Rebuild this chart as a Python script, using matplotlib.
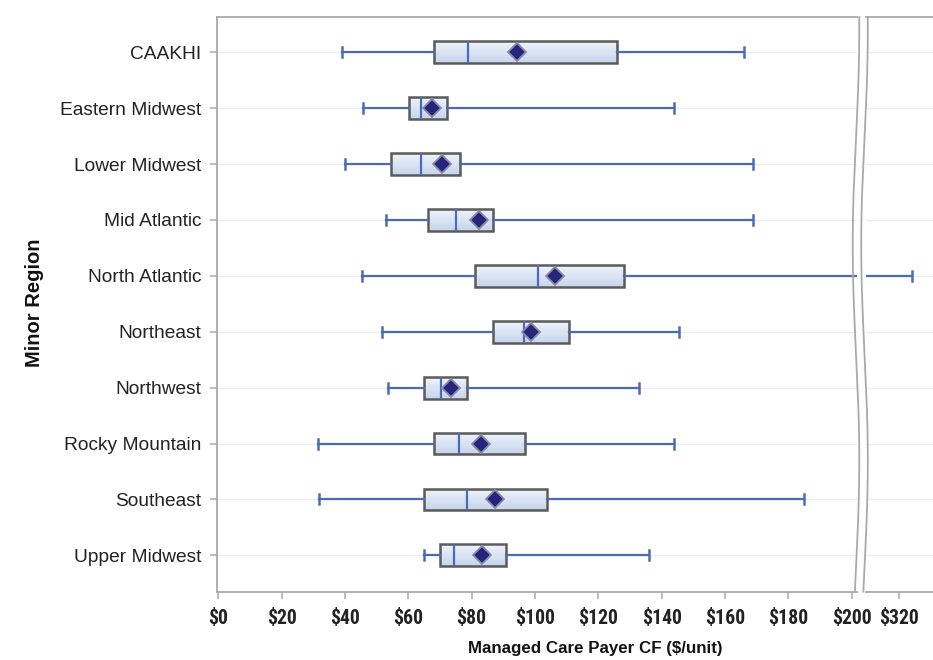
import numpy as np
import matplotlib
matplotlib.use("Agg")
import matplotlib.pyplot as plt
from matplotlib.lines import Line2D
from matplotlib import font_manager as fm
from matplotlib.colors import LinearSegmentedColormap

categories = ["CAAKHI", "Eastern Midwest", "Lower Midwest", "Mid Atlantic",
              "North Atlantic", "Northeast", "Northwest", "Rocky Mountain",
              "Southeast", "Upper Midwest"]
whisker_low = [39.2, 45.8, 39.9, 53.0, 45.5, 51.6, 53.7, 31.4, 31.8, 64.9]
q1 = [68.2, 60.2, 54.6, 66.2, 81.0, 86.6, 65.1, 68.2, 65.0, 70.1]
median = [78.7, 64.0, 64.0, 75.0, 101.1, 96.6, 70.4, 76.0, 78.6, 74.4]
mean = [94.2, 67.6, 70.7, 82.2, 106.3, 98.8, 73.6, 83.0, 87.5, 83.4]
q3 = [125.8, 72.2, 76.2, 86.6, 128.0, 110.7, 78.6, 96.8, 103.8, 90.8]
whisker_high = [166.0, 144.0, 169.0, 169.0, 324.0, 145.5, 133.0, 144.0, 185.0, 136.0]

left_ticks = [0, 20, 40, 60, 80, 100, 120, 140, 160, 180, 200]
right_ticks = [320]

# pick a condensed bold font for the x tick labels if one is installed
def find_condensed_bold():
    best = None
    for f in fm.fontManager.ttflist:
        name = f.name.lower()
        stretch = str(f.stretch).lower()
        is_cond = ("narrow" in name or "condensed" in name or "condensed" in stretch
                   or "narrow" in f.fname.lower() or "condensed" in f.fname.lower())
        is_bold = (f.weight in ("bold", 700) or (isinstance(f.weight, int) and f.weight >= 600)
                   or "bold" in f.fname.lower())
        if is_cond and is_bold and "italic" not in f.fname.lower() and "oblique" not in f.fname.lower():
            if best is None or "liberation" in name or "roboto" in name:
                best = f.fname
    return best

cond_path = find_condensed_bold()
if cond_path:
    tick_fp = fm.FontProperties(fname=cond_path, size=14.2)
else:
    tick_fp = fm.FontProperties(family=["Roboto", "DejaVu Sans"], weight="bold", size=12.5)

W, H = 933, 660
fig = plt.figure(figsize=(W / 100, H / 100), dpi=100)
fig.patch.set_facecolor("white")

label_font = ["Liberation Sans", "DejaVu Sans"]

ax_top, ax_bot = 17.0, 591.7
left_x0, left_x1 = 216.7, 857.0
right_x0, right_x1 = 866.0, 940.0

def frac_rect(x0, x1):
    return [x0 / W, (H - ax_bot) / H, (x1 - x0) / W, (ax_bot - ax_top) / H]

axL = fig.add_axes(frac_rect(left_x0, left_x1))
axR = fig.add_axes(frac_rect(right_x0, right_x1))

stats = []
for i, c in enumerate(categories):
    stats.append(dict(label=c, whislo=whisker_low[i], q1=q1[i], med=median[i],
                      q3=q3[i], whishi=whisker_high[i], mean=mean[i], fliers=[]))

positions = np.arange(len(categories))
frame_col = "#a9a9a9"
blue = "#4a6cb8"
box_w = 0.39

grad = np.linspace(0, 1, 64).reshape(-1, 1)
box_cmap = LinearSegmentedColormap.from_list("boxgrad", ["#eef3fa", "#c6d5ec"])

for ax, xl in ((axL, (-0.5, 201.7)), (axR, (309.5, 332.9))):
    ax.set_facecolor("white")
    for y in positions:
        ax.axhline(y, color="#ececec", lw=1.0, zorder=0)
    res = ax.bxp(stats, positions=positions, widths=box_w, vert=False,
                 showmeans=True, showfliers=False, patch_artist=True,
                 capwidths=0.18,
                 boxprops=dict(facecolor="none", edgecolor="#5a5a5a", linewidth=1.8),
                 medianprops=dict(color=blue, linewidth=1.6),
                 whiskerprops=dict(color=blue, linewidth=1.6),
                 capprops=dict(color=blue, linewidth=1.8),
                 meanprops=dict(marker="D", markersize=9.0, markerfacecolor="#25257e",
                                markeredgecolor="#8a8aa5", markeredgewidth=1.3),
                 zorder=3)
    for i, patch in enumerate(res["boxes"]):
        p = positions[i]
        im = ax.imshow(grad, cmap=box_cmap, aspect="auto", origin="upper",
                       extent=(q1[i], q3[i], p + box_w / 2, p - box_w / 2),
                       zorder=2.5, interpolation="bilinear")
        im.set_clip_path(patch)
    ax.set_xlim(*xl)
    ax.set_ylim(9.65, -0.63)
    for s in ax.spines.values():
        s.set_color(frame_col)
        s.set_linewidth(1.3)
    ax.tick_params(axis="x", colors=frame_col, length=5, width=1.1, pad=7.5,
                   labelcolor="#222222")

axL.set_xticks(left_ticks)
axL.set_xticklabels(["$" + str(t) for t in left_ticks])
axR.set_xticks(right_ticks)
axR.set_xticklabels(["$" + str(t) for t in right_ticks])
for ax in (axL, axR):
    for lab in ax.get_xticklabels():
        lab.set_fontproperties(tick_fp)

axL.set_yticks(positions)
axL.set_yticklabels(categories, fontsize=13.8, family=label_font, color="#222222")
axL.tick_params(axis="y", colors=frame_col, length=5, width=1.1, pad=6,
                labelcolor="#222222")
axR.set_yticks([])
axL.spines["right"].set_visible(False)
axR.spines["left"].set_visible(False)
axR.spines["right"].set_visible(False)

# wavy axis-break lines
ys = np.linspace(ax_top, ax_bot, 200)
for off in (0.0, 8.5):
    xs = 856.0 + off + 3.3 * np.cos(np.pi * (ys - 30) / 215.0)
    fig.add_artist(Line2D(xs / W, (H - ys) / H, transform=fig.transFigure,
                          color=frame_col, lw=1.3))

fig.text(35 / W, 1 - 303 / H, "Minor Region", rotation=90, ha="center", va="center",
         fontsize=14.5, fontweight="bold", family=label_font, color="#111111")
fig.text(595 / W, 1 - 648 / H, "Managed Care Payer CF ($/unit)", ha="center",
         va="center", fontsize=12.2, fontweight="bold", family=label_font,
         color="#111111")

fig.savefig("out.png", dpi=100, facecolor="white")
